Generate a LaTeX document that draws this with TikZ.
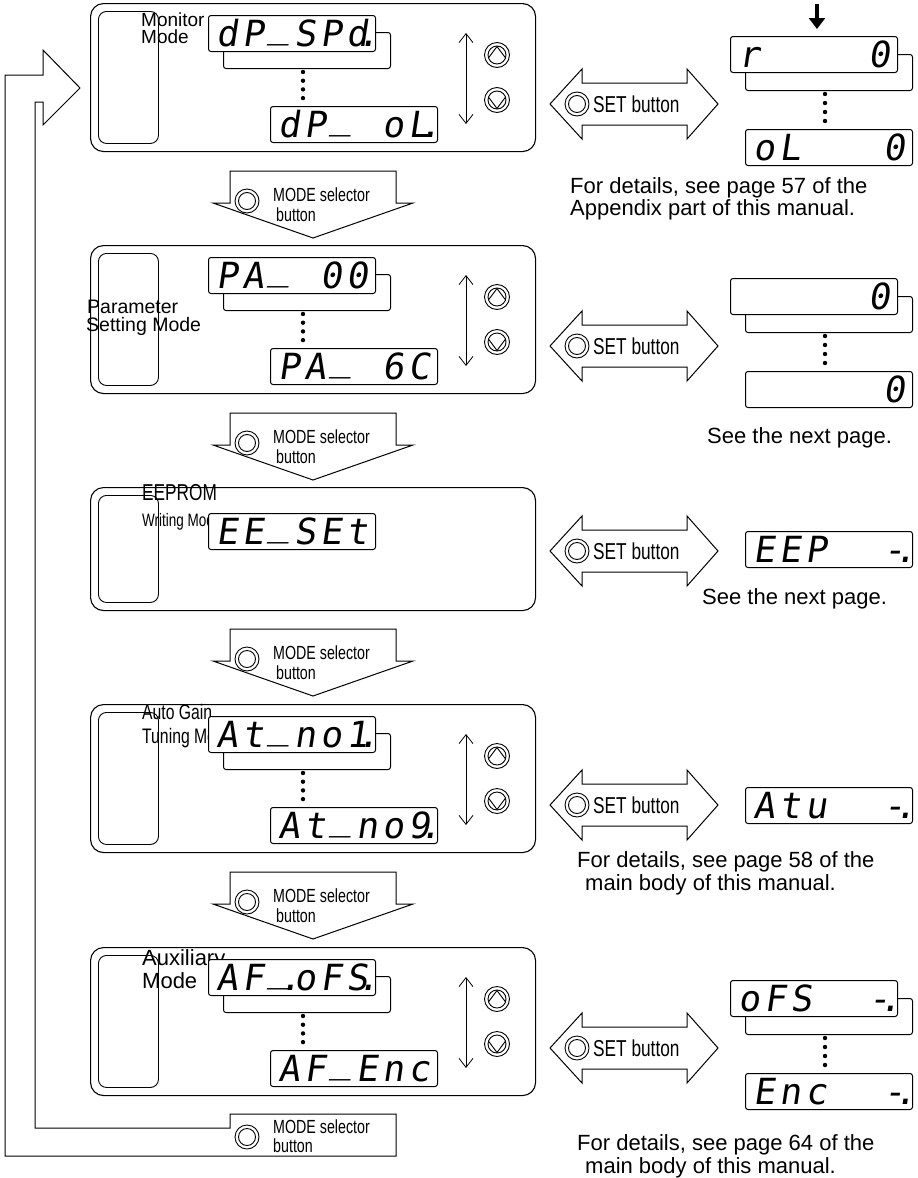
\documentclass[tikz,border=0pt]{standalone}
\usepackage{fontspec}
\setmainfont{Liberation Sans}
\newfontfamily\narrowfont[FakeStretch=0.75]{Liberation Sans}
\newfontfamily\segfont[FakeSlant=0.15]{DejaVu Sans Mono}
\usepackage{tikz}
\usetikzlibrary{arrows.meta}
\tikzstyle{modebox} = [draw, rounded corners=13pt, line width=1.1pt,
minimum width=445pt, inner sep=0pt, anchor=north west]
\tikzstyle{sidebox} = [draw, rounded corners=8pt, line width=0.9pt,
minimum width=60pt, inner sep=0pt, anchor=north west]
\tikzstyle{seg} = [draw, fill=white, rounded corners=2.5pt, line width=1pt,
minimum width=167pt, minimum height=36pt, inner sep=0pt,
text height=26pt, text depth=0pt, anchor=north west,
font=\segfont\fontsize{36}{36}\selectfont]
\tikzstyle{segback} = [draw, rounded corners=2.5pt, line width=1pt,
minimum width=167pt, minimum height=36pt, inner sep=0pt, anchor=north west]
\tikzstyle{lbl} = [inner sep=0pt, anchor=base west]
\tikzstyle{modelbl} = [lbl, font=\narrowfont\fontsize{19}{19}\selectfont]
\tikzstyle{setlbl} = [lbl, font=\narrowfont\fontsize{23}{23}\selectfont]
\tikzstyle{note} = [lbl, font=\fontsize{22}{24}\selectfont]
\tikzstyle{blockarrow} = [draw, line width=1pt, line join=miter]
\tikzstyle{btn} = [line width=0.9pt]
\tikzstyle{updown} = [line width=0.8pt, <->, >={Straight Barb[length=9pt,width=14pt]}]
\newcommand{\dg}[1]{\makebox[26pt]{#1}}
\newcommand{\us}{\raisebox{0.24em}{\_}}
\newcommand{\segdot}{\rlap{\kern-0.3em.}}

\begin{document}
\begin{tikzpicture}[x=1pt, y=-1pt]
\useasboundingbox (0,0) rectangle (918,1178);

% mode panels
\foreach \ty/\nm in {3/mon, 245/par, 704/atg, 947/aux} {
  \node[modebox, minimum height=148pt] (\nm) at (90,\ty) {};
  \node[sidebox, minimum height=132pt] (\nm-side) at (98,\ty+8) {};
  \draw[updown] (466,\ty+30) -- (466,\ty+121);
  \foreach \k in {0,...,3}
    \fill (303,{\ty+69+8.7*\k}) circle (2.2pt);
  \draw[btn] (497,\ty+52) circle (12.5pt) circle (9pt);
  \draw[btn] (488.8,\ty+54.5) -- (497,\ty+43.5) -- (505.2,\ty+54.5);
  \draw[btn] (497,\ty+97) circle (12.5pt) circle (9pt);
  \draw[btn] (488.8,\ty+94.5) -- (497,\ty+105.5) -- (505.2,\ty+94.5);
}
\node[modebox, minimum height=123pt] (eep) at (90,487) {};
\node[sidebox, minimum height=107pt] (eep-side) at (98,495) {};

\node[lbl, font=\fontsize{19}{19}\selectfont] (monA) at (141,26) {Monitor};
\node[lbl, font=\fontsize{19}{19}\selectfont] (monB) at (141,43) {Mode};
\node[lbl, font=\fontsize{19.5}{19}\selectfont] (parA) at (87,313) {Parameter};
\node[lbl, font=\fontsize{19.5}{19}\selectfont] (parB) at (86,331) {Setting Mode};
\node[lbl, font=\narrowfont\fontsize{23}{23}\selectfont] (eepA) at (142,500) {EEPROM};
\node[lbl, font=\narrowfont\fontsize{18}{18}\selectfont] (eepB) at (142,526) {Writing Mode};
\node[lbl, font=\narrowfont\fontsize{21}{21}\selectfont] (atgA) at (142,719) {Auto Gain};
\node[lbl, font=\narrowfont\fontsize{21}{21}\selectfont] (atgB) at (142,743) {Tuning Mode};
\node[lbl, font=\fontsize{22}{22}\selectfont] (auxA) at (142,965) {Auxiliary};
\node[lbl, font=\fontsize{22}{22}\selectfont] (auxB) at (142,988) {Mode};

% displays of the panels
\node[segback] (monS) at (223,32) {};
\node[seg] (monD1) at (208,15) {\dg{d}\dg{P}\dg{\us}\dg{S}\dg{P}\dg{d\segdot}};
\node[seg] (monD2) at (270,106) {\dg{d}\dg{P}\dg{\us}\dg{}\dg{o}\dg{L\segdot}};
\node[segback] (parS) at (223,274) {};
\node[seg] (parD1) at (208,257) {\dg{P}\dg{A}\dg{\us}\dg{}\dg{0}\dg{0}};
\node[seg] (parD2) at (270,348) {\dg{P}\dg{A}\dg{\us}\dg{}\dg{6}\dg{C}};
\node[seg] (eepD) at (208,513) {\dg{E}\dg{E}\dg{\us}\dg{S}\dg{E}\dg{t}};
\node[segback] (atgS) at (223,733) {};
\node[seg] (atgD1) at (208,716) {\dg{A}\dg{t}\dg{\us}\dg{n}\dg{o}\dg{1\segdot}};
\node[seg] (atgD2) at (270,807) {\dg{A}\dg{t}\dg{\us}\dg{n}\dg{o}\dg{9\segdot}};
\node[segback] (auxS) at (223,976) {};
\node[seg] (auxD1) at (208,959) {\dg{A}\dg{F}\dg{\us\segdot}\dg{o}\dg{F}\dg{S\segdot}};
\node[seg] (auxD2) at (270,1050) {\dg{A}\dg{F}\dg{\us}\dg{E}\dg{n}\dg{c}};

% displays after SET
\node[segback] (rmonS) at (745,54) {};
\node[seg] (rmon1) at (730,36) {\dg{r}\dg{}\dg{}\dg{}\dg{}\dg{0}};
\node[seg] (rmon2) at (745,129) {\dg{o}\dg{L}\dg{}\dg{}\dg{}\dg{0}};
\node[segback] (rparS) at (745,296) {};
\node[seg] (rpar1) at (730,278) {\dg{}\dg{}\dg{}\dg{}\dg{}\dg{0}};
\node[seg] (rpar2) at (745,371) {\dg{}\dg{}\dg{}\dg{}\dg{}\dg{0}};
\node[seg] (reep) at (745,531) {\dg{E}\dg{E}\dg{P}\dg{}\dg{}\dg{-\segdot}};
\node[seg] (ratg) at (745,787) {\dg{A}\dg{t}\dg{u}\dg{}\dg{}\dg{-\segdot}};
\node[segback] (rauxS) at (745,998) {};
\node[seg] (raux1) at (730,980) {\dg{o}\dg{F}\dg{S}\dg{}\dg{}\dg{-\segdot}};
\node[seg] (raux2) at (745,1073) {\dg{E}\dg{n}\dg{c}\dg{}\dg{}\dg{-\segdot}};
\foreach \cy in {104,346,1048}
  \foreach \k in {0,...,3}
    \fill (825,{\cy-10+9*\k}) circle (2.2pt);

\coordinate (entry) at (817,4);
\draw[line width=4pt, -{Triangle[length=11pt,width=16pt]}, shorten >=7pt]
  (entry) -- (entry |- rmon1.north);

% SET button arrows
\foreach \cy/\nm in {104/mon, 346/par, 551/eep, 805/atg, 1048/aux} {
  \draw[blockarrow] (550,\cy) -- (582,\cy-35) -- (582,\cy-21) -- (687,\cy-21)
    -- (687,\cy-35) -- (718,\cy) -- (687,\cy+35) -- (687,\cy+21)
    -- (582,\cy+21) -- (582,\cy+35) -- cycle;
  \draw[btn] (577,\cy) circle (12pt) circle (8.5pt);
  \node[setlbl] (\nm-set) at (593,\cy+8) {SET button};
}

% MODE selector arrows
\foreach \ay/\nm in {171/a, 413/b, 629/c, 872/d} {
  \draw[blockarrow] (230,\ay) -- (396,\ay) -- (396,\ay+32) -- (413,\ay+32)
    -- (313,\ay+67) -- (213,\ay+32) -- (230,\ay+32) -- cycle;
  \draw[btn] (247,\ay+30) circle (12pt) circle (8.5pt);
  \node[modelbl] (mode\nm A) at (273,\ay+30) {MODE selector};
  \node[modelbl] (mode\nm B) at (276,\ay+50) {button};
}

% return to Monitor Mode
\draw[blockarrow] (5,75) -- (5,1156) -- (396,1156) -- (396,1114) -- (230,1114)
  -- (230,1128) -- (35,1128) -- (35,102) -- (43,102) -- (43,125) -- (80,88)
  -- (43,50) -- (43,75) -- cycle;
\draw[btn] (247,1137) circle (12pt) circle (8.5pt);
\node[modelbl] (retA) at (273,1133) {MODE selector};
\node[modelbl] (retB) at (273,1152) {button};

\node[note] (n1a) at (570,193) {For details, see page 57 of the};
\node[note] (n1b) at (570,215) {Appendix part of this manual.};
\node[note] (n2) at (707,443) {See the next page.};
\node[note] (n3) at (702,604) {See the next page.};
\node[note] (n4a) at (577,867) {For details, see page 58 of the};
\node[note] (n4b) at (585,890) {main body of this manual.};
\node[note] (n5a) at (577,1150) {For details, see page 64 of the};
\node[note] (n5b) at (585,1173) {main body of this manual.};
\end{tikzpicture}
\end{document}
